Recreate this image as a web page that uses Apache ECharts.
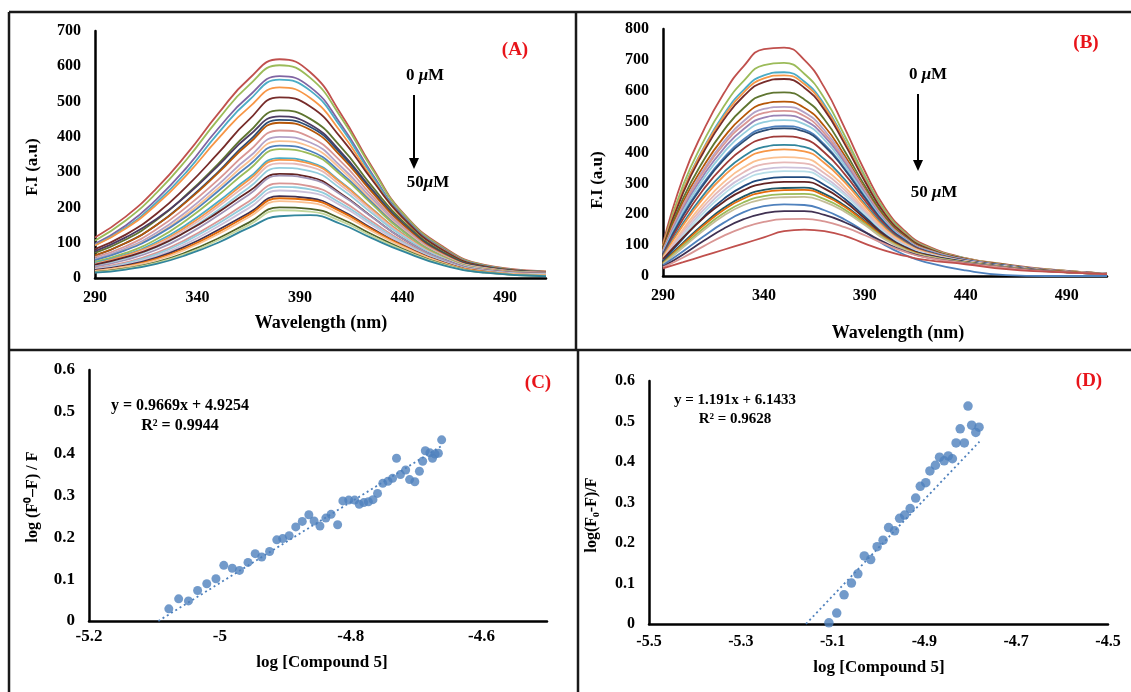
<!DOCTYPE html>
<html><head><meta charset="utf-8">
<script src="https://cdn.jsdelivr.net/npm/echarts@6/dist/echarts.min.js"></script>
<style>html,body{margin:0;padding:0;background:#fff}#c{width:1131px;height:692px}</style>
</head><body><div id="c"></div>
<script>
// ---------- Panel A: emission spectra (wavelength nm -> F.I) ----------
const wavelengthsA = [290,305,320,335,350,365,380,395,410,425,440,460,480,510];
const spectraA = [
 [115,174,254,353,465,564,620,583,465,316,186,88,37,19],
 [106,163,241,338,449,546,603,567,455,311,184,85,36,18],
 [97,149,223,315,423,515,572,541,435,297,177,82,34,17],
 [93,143,214,303,410,503,562,531,427,292,174,80,34,17],
 [92,140,208,294,394,483,540,510,413,284,170,79,33,17],
 [82,123,182,261,353,448,512,486,397,279,172,78,33,17],
 [71,109,164,238,323,413,475,451,371,261,162,73,31,17],
 [76,115,167,236,318,403,458,435,357,252,156,70,30,16],
 [63,99,150,220,300,388,448,428,352,249,155,69,30,16],
 [64,99,150,218,297,381,440,420,345,244,152,67,29,16],
 [59,90,138,203,278,359,418,399,330,234,146,65,28,15],
 [54,84,128,190,264,342,400,384,316,226,142,63,28,15],
 [50,80,122,182,254,330,388,372,308,219,138,62,27,14],
 [51,79,120,176,246,319,375,360,298,214,135,60,26,14],
 [46,71,110,166,234,307,365,352,292,210,133,60,26,14],
 [43,66,102,153,216,284,340,328,272,197,126,57,25,13],
 [40,64,97,147,209,278,335,324,270,196,125,57,25,13],
 [39,60,93,141,202,268,325,315,262,191,122,56,24,12],
 [36,56,87,134,192,256,312,303,253,184,119,55,23,12],
 [38,59,89,133,186,245,295,286,239,174,112,52,22,12],
 [32,51,80,123,177,236,290,281,236,173,112,52,22,12],
 [28,44,71,111,161,217,268,260,220,161,105,48,21,11],
 [26,41,67,106,154,208,258,251,212,155,101,47,20,10],
 [25,38,62,99,146,198,248,242,205,150,98,46,19,10],
 [23,36,58,92,136,184,232,226,192,141,93,44,18,8],
 [20,33,54,87,130,179,226,221,188,138,92,43,18,8],
 [20,32,51,83,124,172,218,213,181,133,89,42,17,8],
 [17,27,45,74,112,157,200,196,168,124,83,39,16,6],
 [16,26,43,70,107,150,192,188,161,119,80,38,15,6],
 [15,24,40,66,100,142,175,178,153,113,76,36,15,5]
];
const colorsA = ['#C0504D','#9BBB59','#8064A2','#4BACC6','#F79646','#772C2A','#5F7530','#4D3B62','#2C4D75','#B65708','#D99694','#B3A2C7','#FAC090','#4F81BD','#9BBB59','#4BACC6','#F79646','#E6B9B8','#93CDDD','#632423','#A093B5','#D99694','#93CDDD','#CCC1DA','#403152','#E46C0A','#FAC090','#4F6228','#C3D69B','#31859C'];

// ---------- Panel B ----------
const wavelengthsB = [290,300,310,320,330,340,350,360,370,380,390,400,410,420,440,460,480,510];
const spectraB = [
 [105,320,470,590,680,735,740,700,610,480,340,220,145,100,58,38,22,8],
 [100,295,435,548,632,683,690,655,575,455,325,212,140,97,57,37,21,8],
 [95,280,413,522,603,650,660,630,555,440,315,205,136,94,56,36,21,8],
 [98,278,410,515,595,640,650,622,548,436,312,203,135,93,56,36,21,8],
 [92,270,400,505,583,628,638,610,538,428,307,200,133,92,55,36,20,8],
 [88,252,373,471,544,587,595,572,507,405,292,192,128,89,54,35,20,8],
 [85,240,355,448,518,558,565,545,485,390,282,186,125,87,53,35,20,8],
 [80,230,343,434,502,541,548,530,472,381,277,183,123,86,53,34,20,8],
 [82,226,336,425,490,528,535,518,462,374,272,180,121,85,52,34,20,8],
 [78,218,325,412,476,513,520,505,452,367,268,178,120,84,52,34,19,7],
 [75,210,314,399,462,498,505,492,441,359,263,175,118,83,51,33,19,7],
 [72,200,300,382,443,478,485,474,426,348,256,171,116,82,51,33,19,7],
 [70,196,295,376,436,471,478,468,421,345,254,170,115,81,50,33,19,7],
 [68,185,280,356,413,445,452,443,400,330,245,165,112,80,50,32,19,7],
 [65,172,262,335,388,418,425,418,378,313,234,159,109,78,49,32,18,7],
 [62,165,252,323,375,404,410,404,366,304,228,155,107,77,48,31,18,7],
 [58,152,235,303,352,379,385,381,346,289,218,149,104,75,48,31,18,7],
 [55,145,224,289,336,362,368,365,333,279,211,145,101,74,47,30,18,7],
 [54,137,213,276,321,346,352,350,320,269,205,142,99,73,47,30,18,7],
 [50,130,204,265,310,334,340,339,311,262,200,139,97,72,46,30,17,7],
 [48,122,191,249,291,314,320,320,295,250,192,134,94,70,46,29,17,6],
 [55,125,188,240,278,299,305,305,283,241,186,131,92,69,45,29,17,6],
 [45,108,168,220,258,279,285,286,266,228,178,126,89,67,45,29,17,6],
 [42,104,163,214,251,272,278,279,260,224,175,124,88,66,44,28,17,6],
 [40,98,154,203,239,259,265,266,249,215,169,121,86,65,44,28,16,6],
 [38,93,147,195,230,249,255,256,240,208,165,118,85,64,43,28,16,6],
 [35,80,128,172,207,226,232,230,213,183,143,100,68,45,18,3,0,0],
 [30,70,113,153,184,203,210,210,198,174,142,108,80,61,42,27,16,6],
 [28,60,96,130,157,175,184,185,177,158,132,103,78,60,41,26,15,6],
 [25,45,65,85,105,125,145,150,145,130,105,82,65,52,38,22,14,6]
];
const colorsB = ['#C0504D','#9BBB59','#4BACC6','#F79646','#772C2A','#5F7530','#B65708','#B3A2C7','#D99694','#9983B5','#93CDDD','#4F81BD','#2C4D75','#9F3B38','#31859C','#F79646','#FAC090','#E6B9B8','#CCC1DA','#B7DEE8','#1F497D','#632423','#215968','#E46C0A','#9BBB59','#C4BD97','#4F81BD','#403152','#D99694','#C0504D'];

// ---------- Panel C: log[Q] vs log((F0-F)/F) ----------
const logConcC = [-5.078,-5.063,-5.048,-5.034,-5.020,-5.006,-4.994,-4.981,-4.970,-4.957,-4.946,-4.936,-4.924,-4.913,-4.904,-4.894,-4.884,-4.874,-4.864,-4.856,-4.847,-4.838,-4.830,-4.820,-4.812,-4.803,-4.794,-4.787,-4.780,-4.773,-4.766,-4.759,-4.751,-4.743,-4.736,-4.730,-4.724,-4.716,-4.710,-4.702,-4.695,-4.690,-4.686,-4.679,-4.675,-4.671,-4.666,-4.661];
const logRatioC = [0.029,0.053,0.048,0.073,0.089,0.101,0.133,0.126,0.121,0.140,0.161,0.153,0.166,0.194,0.197,0.204,0.225,0.238,0.254,0.239,0.227,0.246,0.255,0.230,0.287,0.289,0.289,0.279,0.283,0.285,0.290,0.305,0.329,0.334,0.341,0.389,0.350,0.361,0.338,0.333,0.358,0.382,0.407,0.402,0.389,0.399,0.401,0.433];
const slopeC = 0.9669, interceptC = 4.9254;
const trendRangeC = [-5.094, -4.66];

// ---------- Panel D ----------
const logConcD = [-5.108,-5.091,-5.075,-5.059,-5.045,-5.031,-5.017,-5.003,-4.990,-4.978,-4.965,-4.954,-4.943,-4.931,-4.919,-4.909,-4.897,-4.888,-4.876,-4.867,-4.857,-4.848,-4.839,-4.831,-4.822,-4.813,-4.805,-4.797,-4.788,-4.781];
const logRatioD = [0.003,0.027,0.072,0.101,0.124,0.168,0.159,0.191,0.207,0.238,0.230,0.261,0.269,0.285,0.311,0.340,0.349,0.378,0.392,0.412,0.403,0.415,0.408,0.447,0.482,0.447,0.538,0.491,0.473,0.486];
const slopeD = 1.191, interceptD = 6.1433;
const trendRangeD = [-5.158, -4.78];

// ---------- chart ----------
const FONT = "'Liberation Serif','Times New Roman',serif";
const axisLine = {show:true, onZero:false, lineStyle:{color:'#000', width:2.5}};
function lbl(size, margin, fmt){
  const o = {color:'#000', fontFamily:FONT, fontWeight:'bold', fontSize:size, margin:margin};
  if (fmt) o.formatter = fmt;
  return o;
}
function vAxis(grid, min, max, interval, size, margin, fmt){
  return {type:'value', gridIndex:grid, min, max, interval, axisLine, axisTick:{show:false},
          splitLine:{show:false}, axisLabel:lbl(size, margin, fmt)};
}

const series = [];
spectraA.forEach((arr,i)=>{
  series.push({type:'line', xAxisIndex:0, yAxisIndex:0, smooth:0.5, showSymbol:false, silent:true,
    data: wavelengthsA.map((w,j)=>[w, arr[j]]), lineStyle:{width:1.8, color:colorsA[i]}, z:2});
});
spectraB.forEach((arr,i)=>{
  series.push({type:'line', xAxisIndex:1, yAxisIndex:1, smooth:0.5, showSymbol:false, silent:true,
    data: wavelengthsB.map((w,j)=>[w, arr[j]]), lineStyle:{width:1.8, color:colorsB[i]}, z:2});
});
series.push({type:'scatter', xAxisIndex:2, yAxisIndex:2, symbolSize:9,
  data: logConcC.map((x,i)=>[x, logRatioC[i]]), itemStyle:{color:'#4F81BD'}, z:3});
series.push({type:'line', xAxisIndex:2, yAxisIndex:2, showSymbol:false,
  data: trendRangeC.map(x=>[x, slopeC*x+interceptC]), lineStyle:{color:'#4F81BD', width:1.8, type:[2,3]}, z:2});
series.push({type:'scatter', xAxisIndex:3, yAxisIndex:3, symbolSize:9.5,
  data: logConcD.map((x,i)=>[x, logRatioD[i]]), itemStyle:{color:'#4F81BD'}, z:3});
series.push({type:'line', xAxisIndex:3, yAxisIndex:3, showSymbol:false,
  data: trendRangeD.map(x=>[x, slopeD*x+interceptD]), lineStyle:{color:'#4F81BD', width:1.8, type:[2,3]}, z:2});

function txt(x, y, text, size, opts){
  opts = opts || {};
  const el = {type:'text', x, y, z:10, rotation: opts.rot || 0,
    style:{text, fill: opts.fill || '#000', font:`bold ${size}px ${FONT}`, textAlign:'center', textVerticalAlign:'middle'}};
  if (opts.rich) { el.style.rich = opts.rich; }
  return el;
}
function line(x1,y1,x2,y2,w){
  return {type:'line', z:10, shape:{x1,y1,x2,y2}, style:{stroke:'#1a1a1a', lineWidth:w||2.5}};
}
function arrow(x, y1, y2){
  return [
    {type:'line', z:10, shape:{x1:x, y1:y1, x2:x, y2:y2-9}, style:{stroke:'#000', lineWidth:2}},
    {type:'polygon', z:10, shape:{points:[[x-5,y2-11],[x+5,y2-11],[x,y2]]}, style:{fill:'#000'}}
  ];
}
const muRich = {
  n:{fontFamily:FONT, fontWeight:'bold', fontSize:17, fill:'#000'},
  m:{fontFamily:FONT, fontWeight:'bold', fontStyle:'italic', fontSize:17, fill:'#000'}
};
function muText(x, y, num){
  return {type:'text', x, y, z:10, style:{text:`{n|${num}}{m|μ}{n|M}`, rich:muRich, textAlign:'center', textVerticalAlign:'middle'}};
}

const graphic = [
  // frames
  line(9,12,1131,12), line(9,12,9,692), line(576,12,576,350), line(9,350,1131,350), line(578,350,578,692),
  // panel A texts
  txt(33,167,'F.I (a.u)',17,{rot:Math.PI/2}),
  txt(321,323,'Wavelength (nm)',18),
  txt(515,50,'(A)',19,{fill:'#E8141A'}),
  muText(425,76,'0 '), muText(428,183,'50'),
  ...arrow(414,95,169),
  // panel B texts
  txt(598,180,'F.I (a.u)',17,{rot:Math.PI/2}),
  txt(898,333,'Wavelength (nm)',18),
  txt(1086,43,'(B)',19,{fill:'#E8141A'}),
  muText(928,75,'0 '), muText(934,193,'50 '),
  ...arrow(918,94,171),
  // panel C texts
  txt(33,497,'log (F⁰–F) / F',16,{rot:Math.PI/2}),
  txt(322,663,'log [Compound 5]',17),
  txt(538,383,'(C)',19,{fill:'#E8141A'}),
  txt(180,406,'y = 0.9669x + 4.9254',16),
  txt(180,426,'R² = 0.9944',16),
  // panel D texts
  txt(592,515,'log(F₀-F)/F',16,{rot:Math.PI/2}),
  txt(879,668,'log [Compound 5]',17),
  txt(1089,381,'(D)',19,{fill:'#E8141A'}),
  txt(735,400,'y = 1.191x + 6.1433',15),
  txt(735,419,'R² = 0.9628',15)
];

const chart = echarts.init(document.getElementById('c'), null, {renderer:'canvas'});
chart.setOption({
  animation:false,
  backgroundColor:'#fff',
  grid:[
    {left:95, top:31, width:451, height:247},
    {left:663, top:29, width:444, height:247},
    {left:89, top:370, width:458, height:251},
    {left:649, top:381, width:459, height:243}
  ],
  xAxis:[
    vAxis(0,290,510,50,16,12,v=>v>=505?'':String(v)),
    vAxis(1,290,510,50,16,12,v=>v>=505?'':String(v)),
    vAxis(2,-5.2,-4.5,0.2,17,7,v=>Math.abs(v+4.5)<1e-6?'':String(+v.toFixed(1))),
    vAxis(3,-5.5,-4.5,0.1,16,10,v=>{const k=Math.round((v+5.5)*10);return k%2===0?String(+v.toFixed(1)):'';})
  ],
  yAxis:[
    vAxis(0,0,700,100,16,14),
    vAxis(1,0,800,100,16,14),
    vAxis(2,0,0.6,0.1,17,14,v=>String(+v.toFixed(1))),
    vAxis(3,0,0.6,0.1,16,14,v=>String(+v.toFixed(1)))
  ],
  series,
  graphic
});
</script></body></html>
